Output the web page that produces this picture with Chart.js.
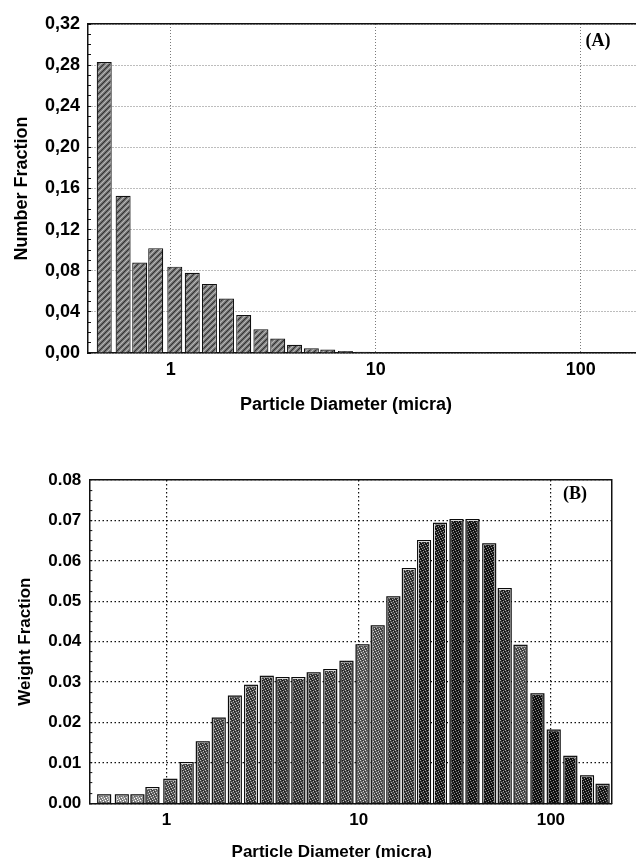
<!DOCTYPE html>
<html><head><meta charset="utf-8">
<script src="https://cdn.jsdelivr.net/npm/chart.js"></script>
<style>
html,body{margin:0;padding:0;background:#fff;overflow:hidden;width:636px;height:858px;position:relative;}
canvas{position:absolute;left:0;}
#cA{top:0;} #cB{top:430px;}
</style></head><body>
<canvas id="cA" width="692" height="430"></canvas>
<canvas id="cB" width="664" height="440"></canvas>
<script>
// ---- data ----
const diameters = [0.474, 0.586, 0.706, 0.845, 1.047, 1.274, 1.545, 1.871, 2.270, 2.754,
  3.327, 4.018, 4.853, 5.834, 7.112, 8.64, 10.47, 12.56, 15.14, 18.24,
  21.88, 26.49, 32.28, 39.08, 47.75, 57.54, 69.50, 85.11, 103.5, 126.2, 154.2, 185.8];
const numberFraction = [0.283, 0.153, 0.088, 0.102, 0.084, 0.078, 0.067, 0.053, 0.037, 0.023,
  0.014, 0.008, 0.0045, 0.0033, 0.002, 0.0012, 0.0008, 0.0006, 0.0005, 0.0004, 0.0003, 0.0003, 0.0002];
const weightFraction = [0.002, 0.002, 0.002, 0.0038, 0.0058, 0.010, 0.0151, 0.021, 0.0264, 0.0291,
  0.0313, 0.031, 0.031, 0.0322, 0.033, 0.035, 0.0391, 0.0438, 0.051, 0.058,
  0.0649, 0.0692, 0.0701, 0.0701, 0.0641, 0.053, 0.039, 0.027, 0.018, 0.0115, 0.0067, 0.0046];
const xTickValues = [1, 10, 100];
const xTickLabels = ['1', '10', '100'];
const topYTickLabels = ['0,00','0,04','0,08','0,12','0,16','0,20','0,24','0,28','0,32'];
const bottomYTickLabels = ['0.00','0.01','0.02','0.03','0.04','0.05','0.06','0.07','0.08'];
// ---- styles ----
const bottomShade = [150,150,150,100,85,80,75,75,72,70,62,62,65,65,70,70,95,90,62,65,40,35,30,30,28,50,85,22,22,25,28,32];
const FONT = "'Liberation Sans', Arial, Helvetica, sans-serif";

function rgb(v){ return `rgb(${v},${v},${v})`; }
function hatchPattern(){
  const c = document.createElement('canvas'); c.width = 6; c.height = 6;
  const g = c.getContext('2d');
  g.fillStyle = '#868686'; g.fillRect(0,0,6,6);
  g.strokeStyle = '#2e2e2e'; g.lineWidth = 1.1;
  g.beginPath(); g.moveTo(-1,7); g.lineTo(7,-1); g.moveTo(-1,1); g.lineTo(1,-1); g.moveTo(5,7); g.lineTo(7,5); g.stroke();
  g.strokeStyle = '#c4c4c4'; g.lineWidth = 0.8;
  g.beginPath(); g.moveTo(-1,4); g.lineTo(4,-1); g.moveTo(2,7); g.lineTo(7,2); g.stroke();
  return g.createPattern(c, 'repeat');
}
function stipple(level){
  const c = document.createElement('canvas'); c.width = 5; c.height = 5;
  const g = c.getContext('2d');
  g.fillStyle = rgb(level); g.fillRect(0,0,5,5);
  g.fillStyle = rgb(Math.min(255, level + 120));
  [[0,0],[3,1],[1,2],[4,3],[2,4]].forEach(p => g.fillRect(p[0], p[1], 1, 1));
  g.fillStyle = rgb(Math.max(0, level - 45));
  [[2,0],[0,3],[4,1],[1,4]].forEach(p => g.fillRect(p[0], p[1], 1, 1));
  return g.createPattern(c, 'repeat');
}

const panelLabel = {
  id: 'panelLabel',
  afterDraw(chart, args, opts){
    const {ctx, chartArea} = chart;
    ctx.save();
    ctx.font = `bold ${opts.size}px 'Liberation Serif', 'Times New Roman', serif`;
    ctx.fillStyle = '#000'; ctx.textAlign = 'center'; ctx.textBaseline = 'middle';
    ctx.fillText(opts.text, chartArea.right + opts.dx, chartArea.top + opts.dy);
    ctx.restore();
  }
};

function xTickCb(v){ const i = xTickValues.indexOf(v); return i >= 0 ? xTickLabels[i] : ''; }
const transparent = 'rgba(0,0,0,0)';

// ---------- Chart A ----------
new Chart(document.getElementById('cA'), {
  type: 'bar',
  plugins: [panelLabel],
  data: { datasets: [{
    data: numberFraction.map((v, i) => ({x: diameters[i], y: v})),
    xAxisID: 'x', yAxisID: 'y',
    backgroundColor: hatchPattern(), borderColor: '#111', borderWidth: 1.2,
    barThickness: 15, inflateAmount: 0
  }]},
  options: {
    responsive: false, animation: false, devicePixelRatio: 1, events: [],
    layout: {padding: {left: 0, right: 0, top: 24, bottom: 0}},
    plugins: {
      legend: {display: false}, tooltip: {enabled: false},
      title: {display: true, position: 'bottom', text: 'Particle Diameter (micra)', color: '#000',
        font: {family: FONT, size: 18, weight: 'bold', lineHeight: 1.2}, padding: {top: 11.2, bottom: 14.2}},
      panelLabel: {text: '(A)', size: 18, dx: -38, dy: 17}
    },
    scales: {
      x: {type: 'logarithmic', position: 'bottom', min: 0.395, max: 186, offset: false,
        afterBuildTicks: s => { s.ticks = xTickValues.map(v => ({value: v})); },
        afterFit: s => { s.height = 30; },
        ticks: {autoSkip: false, maxRotation: 0, padding: 6, color: '#000',
          font: {family: FONT, size: 18, weight: 'bold'}, callback: xTickCb},
        grid: {offset: false, drawTicks: false, color: '#7a7a7a', lineWidth: 1},
        border: {display: true, color: '#111', width: 1.5, dash: [1, 2]}
      },
      xTop: {type: 'linear', position: 'top', min: 0, max: 1,
        afterFit: s => { s.height = 0; },
        ticks: {display: false}, grid: {drawTicks: false, color: transparent},
        border: {display: true, color: '#111', width: 1.5}
      },
      y: {type: 'linear', position: 'left', min: 0, max: 0.32,
        afterFit: s => { s.width = 88; },
        ticks: {stepSize: 0.01, autoSkip: false, padding: 11, color: '#000',
          font: {family: FONT, size: 18, weight: 'bold'},
          callback: v => { const k = Math.round(v * 100); return k % 4 === 0 ? topYTickLabels[k / 4] : ''; }},
        grid: {drawTicks: true, tickLength: -3, tickColor: '#111', tickWidth: 1, lineWidth: 1,
          color: c => { if (!c.tick) return transparent; const k = Math.round(c.tick.value * 100); return k % 4 === 0 ? '#7a7a7a' : transparent; }},
        border: {display: true, color: '#111', width: 1.5, dash: [1, 2]},
        title: {display: true, text: 'Number Fraction', color: '#000',
          font: {family: FONT, size: 18, weight: 'bold', lineHeight: 1.2}, padding: {top: 11.2, bottom: 0}}
      },
      yRight: {type: 'linear', position: 'right', min: 0, max: 1,
        afterFit: s => { s.width = 56; },
        ticks: {display: false}, grid: {drawTicks: false, color: transparent},
        border: {display: false}
      }
    }
  }
});

// ---------- Chart B ----------
const wData = weightFraction.map((v, i) => ({x: diameters[i], y: v}));
new Chart(document.getElementById('cB'), {
  type: 'bar',
  plugins: [panelLabel],
  data: { datasets: [
    { data: wData, xAxisID: 'x', yAxisID: 'y',
      backgroundColor: bottomShade.map(stipple), borderColor: '#dcdcdc', borderWidth: 1,
      barThickness: 12, grouped: false, order: 0, inflateAmount: 0 },
    { data: wData, xAxisID: 'x', yAxisID: 'y',
      backgroundColor: '#0a0a0a', borderWidth: 0,
      barThickness: 12, grouped: false, order: 1, inflateAmount: 1 }
  ]},
  options: {
    responsive: false, animation: false, devicePixelRatio: 1, events: [],
    layout: {padding: {left: 0, right: 0.6, top: 50, bottom: 0}},
    plugins: {
      legend: {display: false}, tooltip: {enabled: false},
      title: {display: true, position: 'bottom', text: 'Particle Diameter (micra)', color: '#000',
        font: {family: FONT, size: 17, weight: 'bold', lineHeight: 1.2}, padding: {top: 13.5, bottom: 7.8}},
      panelLabel: {text: '(B)', size: 18, dx: -36.7, dy: 14.5}
    },
    scales: {
      x: {type: 'logarithmic', position: 'bottom', min: 0.3967, max: 207.2, offset: false,
        afterBuildTicks: s => { s.ticks = xTickValues.map(v => ({value: v})); },
        afterFit: s => { s.height = 25; },
        ticks: {autoSkip: false, maxRotation: 0, padding: 7, color: '#000',
          font: {family: FONT, size: 17, weight: 'bold'}, callback: xTickCb},
        grid: {offset: false, drawTicks: false, color: '#111', lineWidth: 1.2},
        border: {display: true, color: '#111', width: 1.5, dash: [1.5, 2.5]}
      },
      xTop: {type: 'linear', position: 'top', min: 0, max: 1,
        afterFit: s => { s.height = 0; },
        ticks: {display: false}, grid: {drawTicks: false, color: transparent},
        border: {display: true, color: '#111', width: 1.5}
      },
      y: {type: 'linear', position: 'left', min: 0, max: 0.08,
        afterFit: s => { s.width = 89.3; },
        ticks: {stepSize: 0.0025, autoSkip: false, padding: 11, color: '#000',
          font: {family: FONT, size: 17, weight: 'bold'},
          callback: v => { const k = Math.round(v * 10000); return k % 100 === 0 ? bottomYTickLabels[k / 100] : ''; }},
        grid: {drawTicks: true, tickLength: -3, tickColor: '#111', tickWidth: 1, lineWidth: 1.2,
          color: c => { if (!c.tick) return transparent; const k = Math.round(c.tick.value * 10000); return k % 100 === 0 ? '#111' : transparent; }},
        border: {display: true, color: '#111', width: 1.5, dash: [1.5, 2.5]},
        title: {display: true, text: 'Weight Fraction', color: '#000',
          font: {family: FONT, size: 17, weight: 'bold', lineHeight: 1.2}, padding: {top: 14.8, bottom: 0}}
      },
      yRight: {type: 'linear', position: 'right', min: 0, max: 1,
        afterFit: s => { s.width = 51.7; },
        ticks: {display: false}, grid: {drawTicks: false, color: transparent},
        border: {display: true, color: '#111', width: 1.5}
      }
    }
  }
});
</script>
</body></html>
